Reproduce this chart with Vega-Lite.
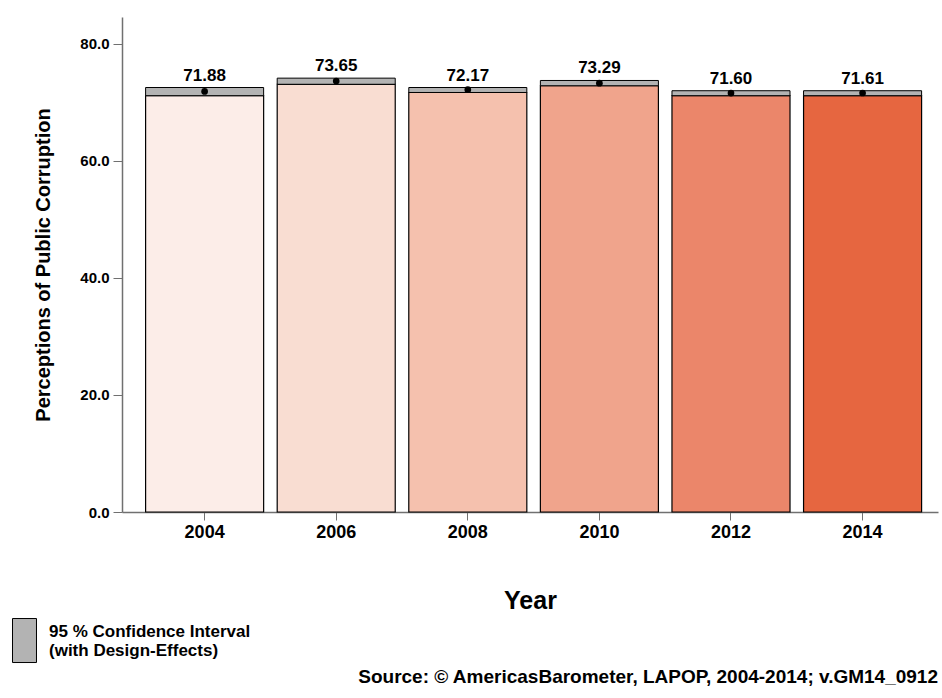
{
  "$schema": "https://vega.github.io/schema/vega-lite/v6.json",
  "autosize": {"type": "none"},
  "width": 816,
  "height": 495,
  "padding": {"left": 122, "top": 17, "right": 4, "bottom": 186},
  "background": "white",
  "config": {"font": "Liberation Sans", "view": {"stroke": null}},
  "title": {
    "text": "Source: © AmericasBarometer, LAPOP, 2004-2014; v.GM14_0912",
    "orient": "bottom",
    "anchor": "end",
    "fontSize": 19,
    "fontWeight": "bold",
    "color": "black",
    "offset": 3
  },
  "data": {
    "values": [
      {"year": "2004", "mean": 71.88, "lo": 71.15, "hi": 72.55},
      {"year": "2006", "mean": 73.65, "lo": 73.1, "hi": 74.15},
      {"year": "2008", "mean": 72.17, "lo": 71.7, "hi": 72.55},
      {"year": "2010", "mean": 73.29, "lo": 72.85, "hi": 73.75},
      {"year": "2012", "mean": 71.60, "lo": 71.15, "hi": 72.0},
      {"year": "2014", "mean": 71.61, "lo": 71.15, "hi": 72.0}
    ]
  },
  "encoding": {
    "x": {
      "field": "year",
      "type": "ordinal",
      "scale": {"paddingInner": 0.103, "paddingOuter": 0.152, "align": 0.59},
      "axis": {
        "title": "Year",
        "titleFontSize": 25,
        "titleFontWeight": "bold",
        "titlePadding": 47,
        "labelAngle": 0,
        "labelFontSize": 18,
        "labelFontWeight": "bold",
        "labelColor": "black",
        "labelPadding": 3,
        "tickSize": 8,
        "tickColor": "#707070",
        "domainColor": "#707070",
        "domainWidth": 1.5
      }
    }
  },
  "layer": [
    {
      "mark": {"type": "bar", "stroke": "black", "strokeWidth": 1.2},
      "encoding": {
        "y": {
          "field": "lo",
          "type": "quantitative",
          "scale": {"domain": [0, 84.6], "nice": false},
          "axis": {
            "title": "Perceptions of Public Corruption",
            "titleFontSize": 20,
            "titleFontWeight": "bold",
            "titlePadding": 26,
            "values": [0, 20, 40, 60, 80],
            "format": ".1f",
            "labelFontSize": 15,
            "labelFontWeight": "bold",
            "labelColor": "black",
            "labelPadding": 4,
            "tickSize": 9,
            "tickColor": "#707070",
            "domainColor": "#707070",
            "domainWidth": 1.5,
            "grid": false
          }
        },
        "fill": {
          "field": "year",
          "type": "ordinal",
          "scale": {"range": ["#FCEDE8", "#F9DDD2", "#F5C1AE", "#F0A48C", "#EB866A", "#E66640"]},
          "legend": null
        }
      }
    },
    {
      "mark": {"type": "bar", "stroke": "black", "strokeWidth": 1},
      "encoding": {
        "y": {"field": "lo", "type": "quantitative"},
        "y2": {"field": "hi"},
        "fill": {
          "datum": "95 % Confidence Interval",
          "type": "nominal",
          "scale": {"range": ["#B3B3B3"]},
          "legend": {
            "title": null,
            "orient": "none",
            "legendX": -120,
            "legendY": 592,
            "symbolType": "M-0.545,-0.59 h1.09 v2 h-1.09 Z",
            "symbolSize": 1936,
            "symbolStrokeColor": "black",
            "symbolStrokeWidth": 1,
            "symbolOpacity": 1,
            "labelFontSize": 17,
            "labelFontWeight": "bold",
            "labelColor": "black",
            "labelOffset": 2,
            "labelLimit": 400,
            "labelExpr": "['95 % Confidence Interval', '(with Design-Effects)']"
          }
        }
      }
    },
    {
      "mark": {"type": "point", "filled": true, "color": "black", "size": 45, "opacity": 1},
      "encoding": {
        "y": {"field": "mean", "type": "quantitative"}
      }
    },
    {
      "mark": {"type": "text", "baseline": "bottom", "dy": -3, "fontSize": 17, "fontWeight": "bold", "color": "black"},
      "encoding": {
        "y": {"field": "hi", "type": "quantitative"},
        "text": {"field": "mean", "type": "quantitative", "format": ".2f"}
      }
    }
  ],
  "resolve": {"scale": {"fill": "independent"}}
}
